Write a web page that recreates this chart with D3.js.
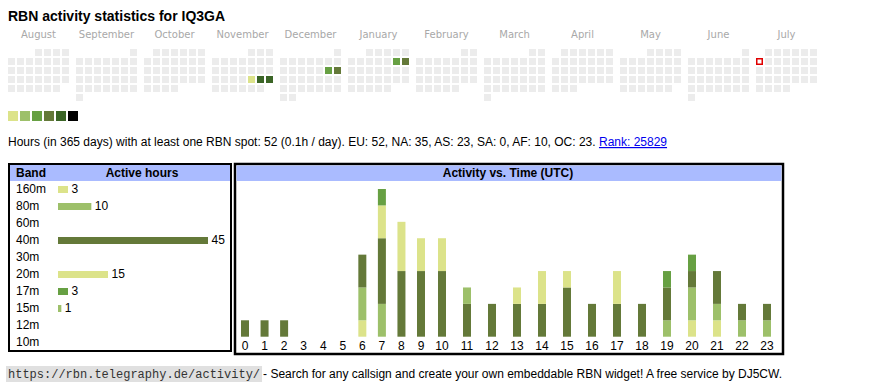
<!DOCTYPE html>
<html>
<head>
<meta charset="utf-8">
<script src="https://cdn.jsdelivr.net/npm/d3@7"></script>
<style>
  body { margin: 0; background: #fff; }
  text { font-family: "Liberation Sans", Arial, Helvetica, sans-serif; }
</style>
</head>
<body>
<div id="rbn"></div>
<script>
// ---- data ----
const callsign = "IQ3GA";
const monthNames = ["August", "September", "October", "November", "December", "January",
  "February", "March", "April", "May", "June", "July"];
const firstMonth = "2024-08-01";
const todayDate = "2025-07-07";
const activeDays = ["2024-11-22", "2024-11-23", "2024-11-24", "2024-12-14", "2024-12-15", "2025-01-11", "2025-01-12"];
const activeLevels = [1, 5, 5, 3, 4, 3, 4];
const levelColors = ["#dce38a", "#9dc06a", "#67a043", "#647939", "#3b6526", "#000000"];

const totalHours = 52;
const periodDays = 365;
const continents = ["EU", "NA", "AS", "SA", "AF", "OC"];
const continentHours = [52, 35, 23, 0, 10, 23];
const rank = 25829;

const bands = ["160m", "80m", "60m", "40m", "30m", "20m", "17m", "15m", "12m", "10m"];
const bandHours = [3, 10, 0, 45, 0, 15, 3, 1, 0, 0];
const bandColors = ["#dce38a", "#9dc06a", "#67a043", "#647939", "#3b6526", "#dce38a", "#67a043", "#9dc06a", "#647939", "#3b6526"];

const hourLabels = ["0", "1", "2", "3", "4", "5", "6", "7", "8", "9", "10", "11",
  "12", "13", "14", "15", "16", "17", "18", "19", "20", "21", "22", "23"];
const h160 = [0, 0, 0, 0, 0, 0, 1, 0, 0, 0, 0, 0, 0, 0, 0, 0, 0, 0, 0, 0, 1, 1, 0, 0];
const h80  = [0, 0, 0, 0, 0, 0, 2, 2, 0, 0, 0, 0, 0, 0, 0, 0, 0, 0, 0, 1, 2, 1, 1, 1];
const h60  = [0, 0, 0, 0, 0, 0, 0, 0, 0, 0, 0, 0, 0, 0, 0, 0, 0, 0, 0, 0, 0, 0, 0, 0];
const h40  = [1, 1, 1, 0, 0, 0, 2, 4, 4, 4, 4, 2, 2, 2, 2, 3, 2, 2, 2, 2, 1, 2, 1, 1];
const h30  = [0, 0, 0, 0, 0, 0, 0, 0, 0, 0, 0, 0, 0, 0, 0, 0, 0, 0, 0, 0, 0, 0, 0, 0];
const h20  = [0, 0, 0, 0, 0, 0, 0, 2, 3, 2, 2, 0, 0, 1, 2, 1, 0, 2, 0, 0, 0, 0, 0, 0];
const h17  = [0, 0, 0, 0, 0, 0, 0, 1, 0, 0, 0, 0, 0, 0, 0, 0, 0, 0, 0, 1, 1, 0, 0, 0];
const h15  = [0, 0, 0, 0, 0, 0, 0, 0, 0, 0, 0, 1, 0, 0, 0, 0, 0, 0, 0, 0, 0, 0, 0, 0];
const h12  = [0, 0, 0, 0, 0, 0, 0, 0, 0, 0, 0, 0, 0, 0, 0, 0, 0, 0, 0, 0, 0, 0, 0, 0];
const h10  = [0, 0, 0, 0, 0, 0, 0, 0, 0, 0, 0, 0, 0, 0, 0, 0, 0, 0, 0, 0, 0, 0, 0, 0];
const hourlyByBand = [h160, h80, h60, h40, h30, h20, h17, h15, h12, h10];

// ---- page ----
const width = 870, height = 390;
const svg = d3.select("#rbn").append("svg")
  .attr("width", width)
  .attr("height", height);

svg.append("text")
  .attr("x", 8).attr("y", 21)
  .style("font-size", "14px")
  .style("font-weight", "bold")
  .text(`RBN activity statistics for ${callsign}`);

// ---- calendar ----
const parseDate = d3.timeParse("%Y-%m-%d");
const fmtDate = d3.timeFormat("%Y-%m-%d");
const start = parseDate(firstMonth);
const months = d3.timeMonths(start, d3.timeMonth.offset(start, 12));
const levelByDay = new Map(activeDays.map((d, i) => [d, activeLevels[i]]));
const cellSize = 7, pitch = 9, blockW = 68, calX = 8, calY = 49;

const cal = svg.append("g");
months.forEach((m, i) => {
  const x0 = calX + i * blockW;
  cal.append("text")
    .attr("x", x0 + (7 * pitch - 2) / 2)
    .attr("y", 38)
    .attr("text-anchor", "middle")
    .style("font-family", "'DejaVu Sans', Verdana, sans-serif")
    .style("font-size", "10px")
    .attr("fill", "#a8a8a8")
    .text(monthNames[i]);

  const days = d3.timeDays(m, d3.timeMonth.offset(m, 1));
  cal.append("g").selectAll("rect")
    .data(days)
    .join("rect")
    .attr("x", d => x0 + ((d.getDay() + 6) % 7) * pitch)
    .attr("y", d => calY + d3.timeMonday.count(m, d) * pitch)
    .attr("width", cellSize)
    .attr("height", cellSize)
    .attr("fill", d => {
      const lv = levelByDay.get(fmtDate(d));
      return lv ? levelColors[lv - 1] : "#ececec";
    })
    .each(function (d) {
      if (fmtDate(d) === todayDate) {
        d3.select(this)
          .attr("x", +this.getAttribute("x") + 0.75)
          .attr("y", +this.getAttribute("y") + 0.75)
          .attr("width", cellSize - 1.5)
          .attr("height", cellSize - 1.5)
          .attr("fill", "#fff")
          .attr("stroke", "#e00000")
          .attr("stroke-width", 1.5);
      }
    });
});

// legend squares
svg.append("g").selectAll("rect")
  .data(levelColors)
  .join("rect")
  .attr("x", (d, i) => 8 + i * 12)
  .attr("y", 111)
  .attr("width", 10)
  .attr("height", 10)
  .attr("fill", d => d);

// ---- summary line ----
const summary = svg.append("text")
  .attr("x", 8).attr("y", 146)
  .style("font-size", "12px");
const contText = continents.map((c, i) => `${c}: ${continentHours[i]}`).join(", ");
summary.append("tspan")
  .text(`Hours (in ${periodDays} days) with at least one RBN spot: ${totalHours} (${(totalHours / periodDays).toFixed(1)}h / day). ${contText}. `);
summary.append("tspan")
  .attr("fill", "#0000ee")
  .style("text-decoration", "underline")
  .text(`Rank: ${rank}`);

// ---- band table ----
const table = svg.append("g");
table.append("rect")
  .attr("x", 9).attr("y", 164)
  .attr("width", 222).attr("height", 187)
  .attr("fill", "#fff")
  .attr("stroke", "#000")
  .attr("stroke-width", 2);
table.append("rect")
  .attr("x", 10).attr("y", 165)
  .attr("width", 220).attr("height", 16)
  .attr("fill", "#aabbff");
table.append("text")
  .attr("x", 16).attr("y", 177)
  .style("font-size", "12px").style("font-weight", "bold")
  .text("Band");
table.append("text")
  .attr("x", 142).attr("y", 177)
  .attr("text-anchor", "middle")
  .style("font-size", "12px").style("font-weight", "bold")
  .text("Active hours");

const rowY = d3.scalePoint().domain(bands).range([193, 346]);
const barX = d3.scaleLinear().domain([0, d3.max(bandHours)]).range([58, 208]);

const rows = table.selectAll("g.row")
  .data(bands.map((b, i) => ({ band: b, hours: bandHours[i], color: bandColors[i] })))
  .join("g")
  .attr("class", "row")
  .attr("transform", d => `translate(0,${rowY(d.band)})`);
rows.append("text")
  .attr("x", 16)
  .style("font-size", "12px")
  .text(d => d.band);
rows.filter(d => d.hours > 0).append("rect")
  .attr("x", barX(0))
  .attr("y", -7)
  .attr("width", d => barX(d.hours) - barX(0))
  .attr("height", 7)
  .attr("fill", d => d.color);
rows.filter(d => d.hours > 0).append("text")
  .attr("x", d => barX(d.hours) + 3.5)
  .style("font-size", "12px")
  .text(d => d.hours);

// ---- activity vs time ----
const act = svg.append("g");
act.append("rect")
  .attr("x", 235).attr("y", 164)
  .attr("width", 548).attr("height", 190)
  .attr("fill", "#fff")
  .attr("stroke", "#000")
  .attr("stroke-width", 2.5);
act.append("rect")
  .attr("x", 236.5).attr("y", 165.5)
  .attr("width", 545).attr("height", 15.5)
  .attr("fill", "#aabbff");
act.append("text")
  .attr("x", 508).attr("y", 177)
  .attr("text-anchor", "middle")
  .style("font-size", "12px").style("font-weight", "bold")
  .text("Activity vs. Time (UTC)");

// table-like columns: single-digit hours are narrower than two-digit ones
const x = d3.scaleLinear().domain([0, 9, 10, 23]).range([245, 421, 442, 767]);
const y = d3.scaleLinear().domain([0, 9]).range([336.7, 189]);

const hourRows = hourLabels.map((h, i) => {
  const r = { hour: i };
  bands.forEach((b, j) => { r[b] = hourlyByBand[j][i]; });
  return r;
});
const stacked = d3.stack().keys(bands)(hourRows);

act.append("g").selectAll("g")
  .data(stacked)
  .join("g")
  .attr("fill", d => bandColors[bands.indexOf(d.key)])
  .selectAll("rect")
  .data(d => d.filter(s => s[1] > s[0]))
  .join("rect")
  .attr("x", s => x(s.data.hour) - 4)
  .attr("y", s => y(s[1]))
  .attr("width", 8)
  .attr("height", s => y(s[0]) - y(s[1]));

act.append("g").selectAll("text")
  .data(hourLabels)
  .join("text")
  .attr("x", (d, i) => x(i))
  .attr("y", 350)
  .attr("text-anchor", "middle")
  .style("font-size", "12px")
  .text(d => d);

// ---- footer ----
const footer = svg.append("g");
const urlText = footer.append("text")
  .attr("x", 8).attr("y", 378)
  .style("font-family", "'Liberation Mono', 'Courier New', monospace")
  .style("font-size", "12px")
  .attr("fill", "#333")
  .text("https://rbn.telegraphy.de/activity/");
const urlW = urlText.node().getComputedTextLength();
footer.insert("rect", "text")
  .attr("x", 6).attr("y", 366)
  .attr("width", urlW + 4).attr("height", 16)
  .attr("fill", "#e0e0e0");
footer.append("text")
  .attr("x", 8 + urlW + 3).attr("y", 378)
  .style("font-size", "12px")
  .text("- Search for any callsign and create your own embeddable RBN widget! A free service by DJ5CW.");
</script>
</body>
</html>
